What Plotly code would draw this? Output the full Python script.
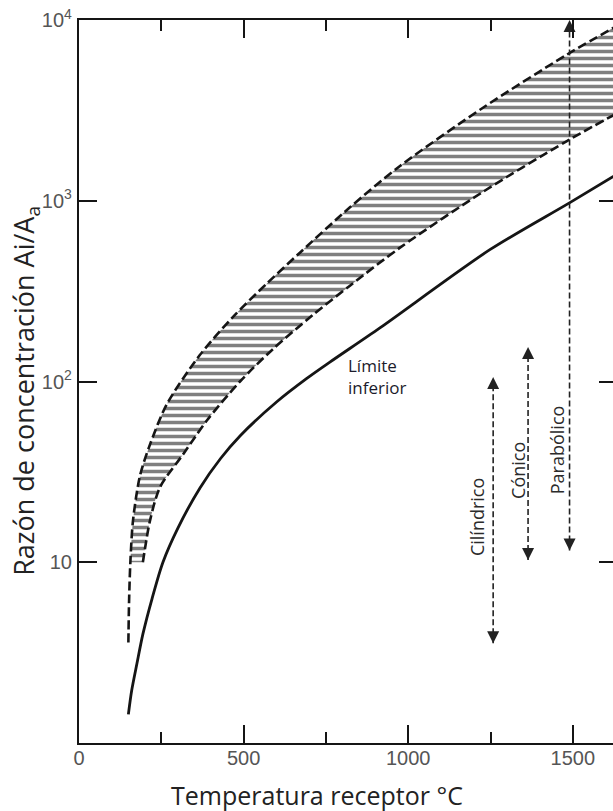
import plotly.graph_objects as go

# ---------------- data ----------------
# lower limit (solid)
temp_lower = [150, 160, 176, 194, 222, 255, 300, 367, 430, 489, 600, 692, 762, 914, 1248, 1491, 1650]
ratio_lower = [1.44, 1.95, 2.75, 4.0, 6.3, 10, 15.4, 25.7, 37.5, 50, 77, 104, 128, 198, 536, 977, 1460]

# upper edge of hatched band (dashed)
temp_upper = [150, 152, 156, 164, 185, 216, 267, 367, 468, 571, 671, 823, 975, 1227, 1482, 1650]
ratio_upper = [3.6, 6, 10, 17, 30, 45, 75, 140, 228, 349, 516, 920, 1556, 3270, 6430, 9640]

# lower edge of hatched band (dashed)
temp_band_low = [194, 216, 246, 316, 389, 489, 589, 711, 823, 975, 1227, 1482, 1650]
ratio_band_low = [10, 17.1, 26, 39.5, 61, 100, 151, 234, 339, 550, 1120, 2140, 3160]

# receptor ranges (double arrows)
receptor_labels = ["Cilíndrico", "Cónico", "Parabólico"]
receptor_temp = [1258, 1364, 1490]
receptor_min = [3.56, 10.3, 11.6]
receptor_max = [106, 155, 10000]

x_tick_vals = [0, 500, 1000, 1500]
x_minor_vals = [250, 750, 1250]
y_tick_vals = [10, 100, 1000, 10000]
y_tick_text = ["10", "10<sup>2</sup>", "10<sup>3</sup>", "10<sup>4</sup>"]

# ---------------- figure ----------------
INK = "#151515"
fig = go.Figure()

# hatched band: upper edge from ratio 10 upward, then the lower edge filled to it
band_start = ratio_upper.index(10)
fig.add_trace(go.Scatter(
    x=temp_upper[band_start:], y=ratio_upper[band_start:], mode="lines",
    line=dict(width=0, color=INK, shape="spline", smoothing=0.8),
    hoverinfo="skip", showlegend=False))
fig.add_trace(go.Scatter(
    x=temp_band_low, y=ratio_band_low, mode="lines", fill="tonexty",
    fillcolor="rgba(255,255,255,0)",
    fillpattern=dict(shape="-", size=7, solidity=0.5, fgcolor="#000000", bgcolor="white"),
    line=dict(width=0, color=INK, shape="spline", smoothing=0.8),
    hoverinfo="skip", showlegend=False))

# dashed edges
fig.add_trace(go.Scatter(x=temp_upper, y=ratio_upper, mode="lines",
                         line=dict(color=INK, width=2.6, dash="9px,4px",
                                   shape="spline", smoothing=0.8),
                         showlegend=False))
fig.add_trace(go.Scatter(x=temp_band_low, y=ratio_band_low, mode="lines",
                         line=dict(color=INK, width=2.6, dash="9px,4px",
                                   shape="spline", smoothing=0.8),
                         showlegend=False))
# lower limit (solid)
fig.add_trace(go.Scatter(x=temp_lower, y=ratio_lower, mode="lines",
                         line=dict(color=INK, width=2.8, shape="spline", smoothing=0.8),
                         showlegend=False))

# receptor double arrows (on the mirrored right axis, same scale)
for t, lo, hi in zip(receptor_temp, receptor_min, receptor_max):
    fig.add_trace(go.Scatter(
        x=[t, t], y=[lo, hi], mode="lines+markers", yaxis="y2",
        line=dict(color="#222222", width=1.6, dash="6px,3px"),
        marker=dict(symbol=["arrow-down", "arrow-up"], size=12, color="#222222",
                    line=dict(width=0)),
        cliponaxis=False, showlegend=False))

label_pos = [(1209, 1.25), (1333, 1.51), (1452, 1.62)]
for name, (lx, ly) in zip(receptor_labels, label_pos):
    fig.add_annotation(x=lx, y=ly, xref="x", yref="y", text=name, showarrow=False,
                       textangle=-90, font=dict(family="Open Sans", size=18, color="#2b2b2b"))

fig.add_annotation(x=810, y=2.03, xref="x", yref="y", text="Límite<br>inferior",
                   showarrow=False, xanchor="left", align="left",
                   font=dict(family="Open Sans", size=17, color="#1b1b2b"))

# axis titles
fig.add_annotation(x=0.4457, y=-0.072, xref="paper", yref="paper",
                   text="Temperatura receptor °C", showarrow=False,
                   xanchor="center", yanchor="middle",
                   font=dict(family="Open Sans", size=25, color="#222222"))
fig.add_annotation(x=-0.0993, y=0.487, xref="paper", yref="paper",
                   text="Razón de concentración Ai/A<sub>a</sub>", showarrow=False,
                   textangle=-90, xanchor="center", yanchor="middle",
                   font=dict(family="Open Sans", size=27, color="#222222"))

axis_font = dict(family="Liberation Sans, Arial", size=20, color="#555555")
fig.update_layout(
    width=613, height=811,
    margin=dict(l=79, r=0, t=20, b=68, pad=0, autoexpand=False),
    plot_bgcolor="white", paper_bgcolor="white",
    showlegend=False,
    xaxis=dict(
        range=[0, 1622], tickvals=x_tick_vals, ticktext=[str(v) for v in x_tick_vals],
        ticks="inside", ticklen=18, tickwidth=1.5, tickcolor=INK,
        minor=dict(tickvals=x_minor_vals, ticks="inside", ticklen=11,
                   tickwidth=1.5, tickcolor=INK, showgrid=False),
        showline=True, linewidth=2.2, linecolor=INK, mirror="ticks",
        showgrid=False, zeroline=False, tickfont=axis_font, ticklabelstandoff=-4,
        automargin=False,
    ),
    yaxis=dict(
        type="log", range=[0, 4], tickvals=y_tick_vals, ticktext=y_tick_text,
        ticks="inside", ticklen=18, tickwidth=1.5, tickcolor=INK,
        showline=True, linewidth=2.2, linecolor=INK,
        showgrid=False, zeroline=False, tickfont=axis_font, ticklabelstandoff=1,
        automargin=False,
    ),
    yaxis2=dict(
        type="log", range=[0, 4], overlaying="y", side="right", tickvals=y_tick_vals,
        ticks="inside", ticklen=14, tickwidth=1.5, tickcolor=INK,
        showticklabels=False, showline=False, showgrid=False, zeroline=False,
        automargin=False,
    ),
)

# remove the default 8px page margin so the 613x811 figure fills the window exactly
fig.write_html(
    "out.html",
    config={"displayModeBar": False},
    post_script="document.body.style.margin='0';"
                "document.body.style.overflow='hidden';"
                "document.documentElement.style.overflow='hidden';",
)
